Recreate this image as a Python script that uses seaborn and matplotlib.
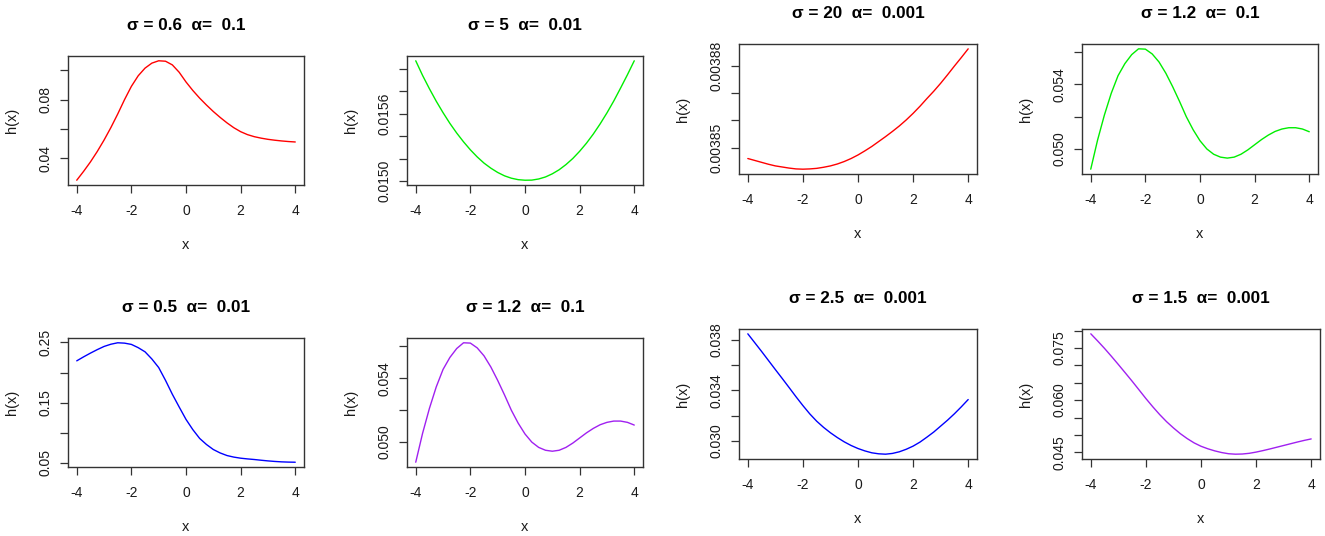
import matplotlib
matplotlib.use("Agg")
import matplotlib.pyplot as plt
import seaborn as sns
import pandas as pd

sns.set_style("ticks")
plt.rcParams['font.family'] = ['Liberation Sans', 'DejaVu Sans']

# ---------------- data ----------------
x_vals = [-4.0, -3.75, -3.5, -3.25, -3.0, -2.75, -2.5, -2.25, -2.0, -1.75, -1.5,
          -1.25, -1.0, -0.75, -0.5, -0.25, 0.0, 0.25, 0.5, 0.75, 1.0, 1.25, 1.5,
          1.75, 2.0, 2.25, 2.5, 2.75, 3.0, 3.25, 3.5, 3.75, 4.0]

h_s06_a01 = [0.0252, 0.0312, 0.0376, 0.0447, 0.0525, 0.0610, 0.0702, 0.0800, 0.0890,
             0.0962, 0.1014, 0.1048, 0.1064, 0.1061, 0.1036, 0.0986, 0.0920, 0.0862,
             0.0810, 0.0763, 0.0719, 0.0679, 0.0642, 0.0609, 0.0582, 0.0562, 0.0548,
             0.0538, 0.0530, 0.0524, 0.0519, 0.0515, 0.0512]
h_s5_a001 = [0.016070, 0.015940, 0.015822, 0.015711, 0.015609, 0.015514, 0.015428, 0.015350,
             0.015279, 0.015216, 0.015161, 0.015116, 0.015078, 0.015048, 0.015027, 0.015014,
             0.015009, 0.015010, 0.015020, 0.015038, 0.015066, 0.015102, 0.015148, 0.015202,
             0.015266, 0.015338, 0.015419, 0.015509, 0.015607, 0.015713, 0.015828, 0.015946,
             0.016070]
h_s20_a0001 = [0.0038461, 0.0038454, 0.0038447, 0.0038440, 0.0038434, 0.0038430, 0.0038426,
               0.0038423, 0.0038422, 0.0038423, 0.0038425, 0.0038429, 0.0038434, 0.0038441,
               0.0038450, 0.0038461, 0.0038474, 0.0038489, 0.0038505, 0.0038523, 0.0038541,
               0.0038560, 0.0038580, 0.0038602, 0.0038626, 0.0038652, 0.0038680, 0.0038707,
               0.0038736, 0.0038767, 0.0038799, 0.0038830, 0.0038862]
h_s12_a01 = [0.04873, 0.05054, 0.05210, 0.05345, 0.05455, 0.05530, 0.05586, 0.05622, 0.05620,
             0.05590, 0.05540, 0.05470, 0.05386, 0.05295, 0.05199, 0.05118, 0.05050, 0.04999,
             0.04966, 0.04948, 0.04942, 0.04948, 0.04966, 0.04993, 0.05025, 0.05057, 0.05085,
             0.05108, 0.05123, 0.05131, 0.05131, 0.05123, 0.05106]
h_s05_a001 = [0.2194, 0.2260, 0.2322, 0.2380, 0.2433, 0.2470, 0.2494, 0.2488, 0.2467, 0.2413,
              0.2344, 0.2225, 0.2083, 0.1870, 0.1639, 0.1428, 0.1222, 0.1052, 0.0906, 0.0805,
              0.0722, 0.0665, 0.0622, 0.0596, 0.0578, 0.0566, 0.0556, 0.0544, 0.0533, 0.0524,
              0.0517, 0.0513, 0.0511]
h_s25_a0001 = [0.03850, 0.03780, 0.03710, 0.03638, 0.03566, 0.03495, 0.03423, 0.03350,
               0.03280, 0.03214, 0.03156, 0.03107, 0.03064, 0.03026, 0.02992, 0.02963,
               0.02939, 0.02920, 0.02905, 0.02897, 0.02894, 0.02900, 0.02913, 0.02933,
               0.02958, 0.02990, 0.03029, 0.03070, 0.03117, 0.03164, 0.03215, 0.03270,
               0.03328]
h_s15_a0001 = [0.07907, 0.07700, 0.07485, 0.07258, 0.07024, 0.06785, 0.06544, 0.06295,
               0.06045, 0.05808, 0.05584, 0.05380, 0.05200, 0.05035, 0.04893, 0.04770,
               0.04673, 0.04600, 0.04540, 0.04492, 0.04458, 0.04445, 0.04450, 0.04470,
               0.04505, 0.04548, 0.04595, 0.04645, 0.04695, 0.04745, 0.04795, 0.04842,
               0.04884]

titles = ["σ = 0.6  α=  0.1", "σ = 5  α=  0.01", "σ = 20  α=  0.001", "σ = 1.2  α=  0.1",
          "σ = 0.5  α=  0.01", "σ = 1.2  α=  0.1", "σ = 2.5  α=  0.001", "σ = 1.5  α=  0.001"]
series = [h_s06_a01, h_s5_a001, h_s20_a0001, h_s12_a01,
          h_s05_a001, h_s12_a01, h_s25_a0001, h_s15_a0001]
colors = ["#FF0000", "#00EE00", "#FF0000", "#00EE00",
          "#0000FF", "#A020F0", "#0000FF", "#A020F0"]

x_ticks = [-4, -2, 0, 2, 4]
x_tick_labels = ["-4", "-2", "0", "2", "4"]

y_ticks = [
    [0.04, 0.06, 0.08, 0.10],
    [0.0150, 0.0152, 0.0154, 0.0156, 0.0158, 0.0160],
    [0.00385, 0.00386, 0.00387, 0.00388],
    [0.050, 0.052, 0.054, 0.056],
    [0.05, 0.10, 0.15, 0.20, 0.25],
    [0.050, 0.052, 0.054, 0.056],
    [0.030, 0.032, 0.034, 0.036, 0.038],
    [0.045, 0.050, 0.055, 0.060, 0.065, 0.070, 0.075, 0.080],
]
y_tick_labels = [
    ["0.04", "", "0.08", ""],
    ["0.0150", "", "", "0.0156", "", ""],
    ["0.00385", "", "", "0.00388"],
    ["0.050", "", "0.054", ""],
    ["0.05", "", "0.15", "", "0.25"],
    ["0.050", "", "0.054", ""],
    ["0.030", "", "0.034", "", "0.038"],
    ["0.045", "", "", "0.060", "", "", "0.075", ""],
]

# ---------------- layout (pixel boxes: left, top, right, bottom) ----------------
W, H = 1325, 536
boxes = [(68, 56, 304, 185), (407, 56, 643, 185), (739, 44, 977, 174), (1082, 44, 1318, 174),
         (68, 338, 304, 467), (407, 338, 643, 467), (739, 329, 977, 459), (1082, 329, 1320, 459)]

fig = plt.figure(figsize=(W / 100, H / 100), dpi=100)
fig.patch.set_facecolor("white")

txt = "#1a1a1a"
for i in range(8):
    l, t, r, b = boxes[i]
    ax = fig.add_axes([l / W, 1 - b / H, (r - l) / W, (b - t) / H])
    df = pd.DataFrame({"x": x_vals, "h": series[i]})
    sns.lineplot(data=df, x="x", y="h", ax=ax, color=colors[i], linewidth=1.0)
    ax.margins(x=0.04, y=0.04)
    ax.set_xticks(x_ticks)
    ax.set_xticklabels(x_tick_labels)
    ax.set_yticks(y_ticks[i])
    ax.set_yticklabels(y_tick_labels[i])
    ax.tick_params(axis="both", direction="out", length=6, width=0.9, colors="#333333",
                   labelsize=10, labelcolor=txt)
    ax.tick_params(axis="x", pad=7.5)
    ax.tick_params(axis="y", pad=5, labelrotation=90)
    for lab in ax.get_yticklabels():
        lab.set_va("center")
    for sp in ax.spines.values():
        sp.set_visible(True)
        sp.set_color("#333333")
        sp.set_linewidth(1.0)
    ax.set_xlabel("x", fontsize=10.5, color=txt)
    ax.set_ylabel("h(x)", fontsize=10.5, color=txt)
    w_px, h_px = r - l, b - t
    ax.xaxis.set_label_coords(0.5, -60 / h_px)
    ax.xaxis.label.set_va("center")
    ax.yaxis.set_label_coords(-56 / w_px, 0.5)
    ax.yaxis.label.set_va("center")
    ax.set_title(titles[i], fontsize=12.3, fontweight="bold", pad=19, color="black")
    ax.grid(False)

fig.savefig("out.png", dpi=100, facecolor="white")
